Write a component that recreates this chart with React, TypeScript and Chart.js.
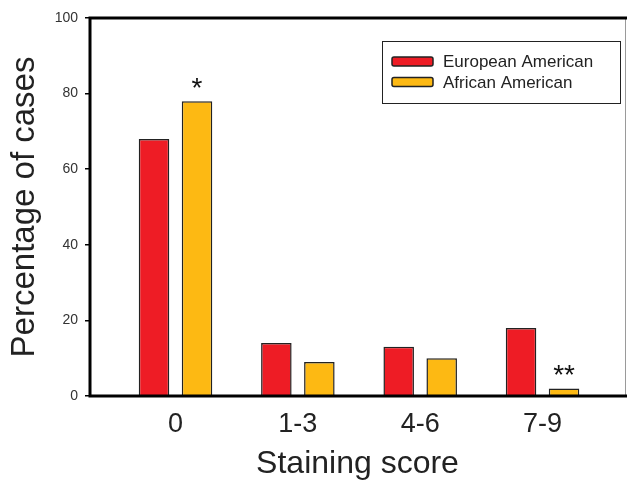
import React, { useEffect, useRef } from "react";
import { Chart, registerables } from "chart.js";

Chart.register(...registerables);

const categories = ["0", "1-3", "4-6", "7-9"];
const europeanAmerican = [68, 14, 13, 18];
const africanAmerican = [78, 9, 10, 2];
const significance = ["*", "", "", "**"];
const yTicks = [0, 20, 40, 60, 80, 100];
const seriesNames = ["European American", "African American"];
const seriesColors = ["#EE1C25", "#FDB913"];

const FONT = "'Liberation Sans', Arial, Helvetica, sans-serif";

const framePlugin = {
  id: "frame",
  afterDatasetsDraw(chart: any) {
    const { ctx, chartArea } = chart;
    const { left, right, top, bottom } = chartArea;
    ctx.save();
    // right thin gray
    ctx.strokeStyle = "#9a9a9a";
    ctx.lineWidth = 1;
    ctx.beginPath();
    ctx.moveTo(right + 0.5, top);
    ctx.lineTo(right + 0.5, bottom);
    ctx.stroke();
    // thick black lines
    ctx.strokeStyle = "#000";
    ctx.lineWidth = 3;
    ctx.beginPath();
    ctx.moveTo(left - 1.5, top);
    ctx.lineTo(chart.width, top);
    ctx.moveTo(left, top - 1.5);
    ctx.lineTo(left, bottom + 1.5);
    ctx.moveTo(left - 1.5, bottom);
    ctx.lineTo(chart.width, bottom);
    ctx.stroke();

    // significance marks
    const meta = chart.getDatasetMeta(1);
    ctx.fillStyle = "#111";
    ctx.font = `28px ${FONT}`;
    ctx.textAlign = "center";
    ctx.textBaseline = "alphabetic";
    meta.data.forEach((el: any, i: number) => {
      const s = significance[i];
      if (!s) return;
      ctx.fillText(s, el.x, el.y - 4);
    });

    // legend
    const bx = 382, by = 41, bw = 238, bh = 62;
    ctx.fillStyle = "#fff";
    ctx.fillRect(bx, by, bw, bh);
    ctx.strokeStyle = "#222";
    ctx.lineWidth = 1;
    ctx.strokeRect(bx + 0.5, by + 0.5, bw, bh);
    const rows = [61.5, 82];
    seriesNames.forEach((name, i) => {
      const cy = rows[i];
      ctx.fillStyle = seriesColors[i];
      ctx.strokeStyle = "#222";
      ctx.lineWidth = 1.5;
      ctx.beginPath();
      if ((ctx as any).roundRect) (ctx as any).roundRect(392, cy - 4.5, 41, 9, 2);
      else ctx.rect(392, cy - 4.5, 41, 9);
      ctx.fill();
      ctx.stroke();
      ctx.fillStyle = "#222";
      ctx.font = `17px ${FONT}`;
      ctx.textAlign = "left";
      ctx.textBaseline = "middle";
      ctx.fillText(name, 443, cy + 1);
    });
    ctx.restore();
  },
};

export default function App() {
  const ref = useRef<HTMLCanvasElement | null>(null);
  useEffect(() => {
    if (!ref.current) return;
    const chart = new Chart(ref.current, {
      type: "bar",
      data: {
        datasets: [
          {
            label: seriesNames[0],
            data: europeanAmerican.map((v, i) => ({ x: i, y: v })),
            backgroundColor: seriesColors[0],
            borderColor: "#222",
            borderWidth: 1.5,
          },
          {
            label: seriesNames[1],
            data: africanAmerican.map((v, i) => ({ x: i, y: v })),
            backgroundColor: seriesColors[1],
            borderColor: "#222",
            borderWidth: 1.5,
          },
        ],
      },
      options: {
        animation: false,
        responsive: true,
        maintainAspectRatio: false,
        categoryPercentage: 0.703,
        barPercentage: 0.71,
        layout: { padding: { top: 18, right: 2, left: 0, bottom: 0 } },
        plugins: { legend: { display: false }, tooltip: { enabled: false } },
        scales: {
          x: {
            type: "linear",
            offset: false,
            min: -0.699,
            max: 3.674,
            afterBuildTicks: (scale: any) => {
              scale.ticks = categories.map((_, i) => ({ value: i }));
            },
            afterFit: (scale: any) => {
              scale.height = 87;
            },
            grid: { display: false, drawTicks: false, offset: false },
            border: { display: false },
            ticks: {
              padding: 12,
              color: "#222",
              font: { family: FONT, size: 27 },
              callback: (v: any) => categories[v] ?? "",
              maxRotation: 0,
              autoSkip: false,
            },
            title: {
              display: true,
              text: "Staining score",
              color: "#222",
              font: { family: FONT, size: 32 },
              padding: { top: 0, bottom: 0 },
            },
          },
          y: {
            min: 0,
            max: 100,
            afterBuildTicks: (scale: any) => {
              scale.ticks = yTicks.map((v) => ({ value: v }));
            },
            afterFit: (scale: any) => {
              scale.width = 90;
            },
            grid: {
              drawOnChartArea: false,
              drawTicks: true,
              tickLength: 5,
              color: "#000",
              lineWidth: 1.5,
            },
            border: { display: false },
            ticks: {
              padding: 7,
              color: "#333",
              font: { family: FONT, size: 14 },
            },
            title: {
              display: true,
              text: "Percentage of cases",
              color: "#222",
              font: { family: FONT, size: 33 },
              padding: { top: 5, bottom: 0 },
            },
          },
        },
      },
      plugins: [framePlugin],
    });
    return () => chart.destroy();
  }, []);
  return (
    <div style={{ position: "absolute", left: 0, top: 0, width: 627, height: 483, background: "#fff" }}>
      <canvas ref={ref} />
    </div>
  );
}
